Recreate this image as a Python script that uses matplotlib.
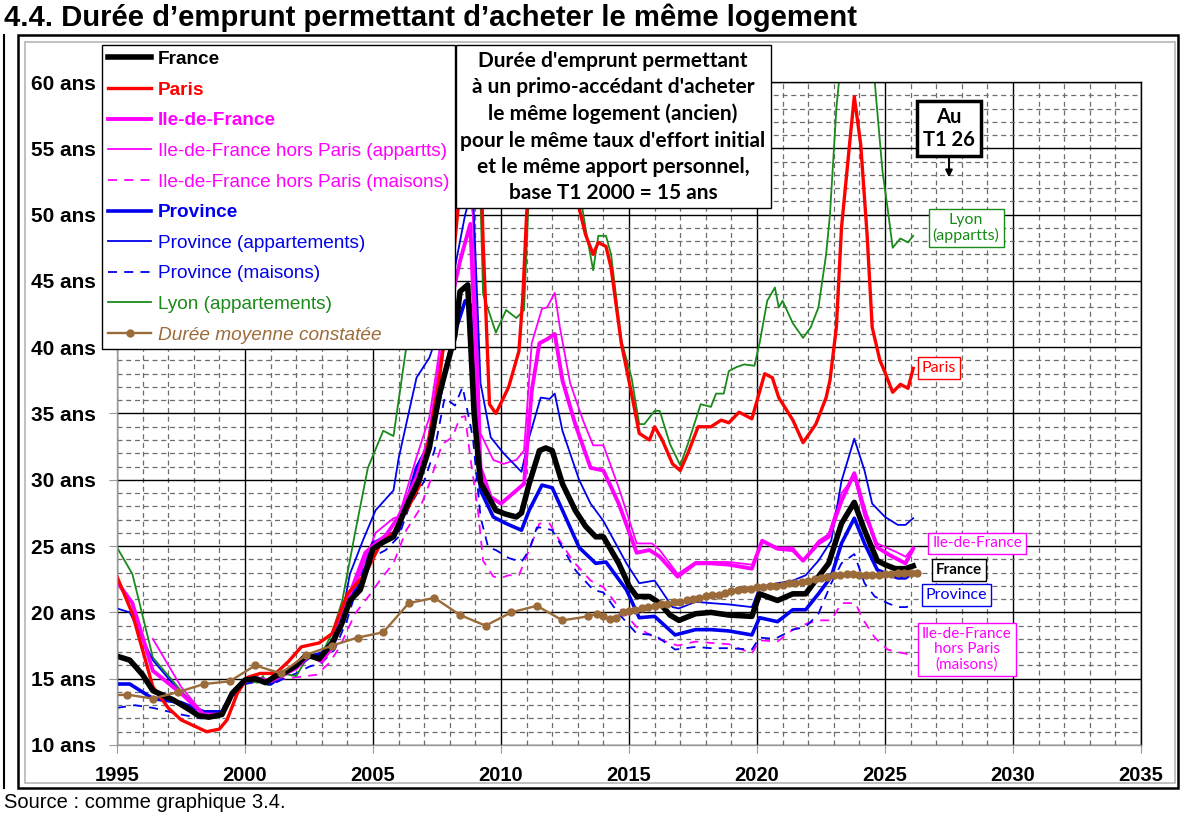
import matplotlib.pyplot as plt
from matplotlib.patches import Rectangle
from matplotlib.lines import Line2D

plt.rcParams['font.family'] = ['Liberation Sans', 'DejaVu Sans']

# ---- data (durée en années) ----
france_t = [1995.0, 1995.5, 1996.0, 1996.4, 1997.2, 1997.8, 1998.2, 1998.6, 1999.1, 1999.5,
            2000.0, 2000.4, 2000.8, 2001.2, 2001.5, 2002.0, 2002.4, 2002.9, 2003.4, 2003.75,
            2004.1, 2004.5, 2005.0, 2005.4, 2005.8, 2006.4, 2006.8, 2007.2, 2007.6, 2008.2,
            2008.4, 2008.7, 2008.95, 2009.2, 2009.8, 2010.2, 2010.6, 2010.8, 2011.1, 2011.5,
            2011.75, 2012.0, 2012.4, 2012.9, 2013.3, 2013.7, 2014.0, 2014.3, 2014.6, 2015.0,
            2015.3, 2015.8, 2016.2, 2016.6, 2016.95, 2017.6, 2018.2, 2018.9, 2019.8, 2020.1,
            2020.8, 2021.4, 2021.9, 2022.4, 2022.8, 2023.3, 2023.8, 2024.2, 2024.7, 2025.0,
            2025.4, 2025.8, 2026.1]
france_v = [16.7, 16.4, 15.3, 14.1, 13.4, 12.7, 12.2, 12.1, 12.3, 13.9,
            14.9, 15.0, 14.7, 15.2, 15.4, 16.0, 16.8, 16.5, 17.7, 19.0,
            20.9, 21.7, 24.8, 25.3, 25.7, 28.4, 30.0, 32.4, 36.5, 40.9,
            44.2, 44.7, 35.0, 29.8, 27.7, 27.4, 27.2, 27.5, 29.7, 32.2,
            32.4, 32.2, 29.7, 27.7, 26.5, 25.7, 25.7, 24.7, 23.7, 22.0,
            21.2, 21.2, 20.7, 19.8, 19.4, 19.9, 20.0, 19.8, 19.7, 21.4,
            20.9, 21.4, 21.4, 22.7, 23.7, 26.7, 28.3, 26.2, 23.9, 23.6,
            23.3, 23.3, 23.5]

paris_t = [1995.0, 1995.6, 1996.4, 1997.0, 1997.5, 1998.5, 1999.0, 1999.3, 1999.7, 2000.1,
           2000.6, 2001.2, 2001.7, 2002.2, 2002.9, 2003.4, 2004.0, 2004.7, 2005.3, 2005.8,
           2006.4, 2006.8, 2007.2, 2007.6, 2008.0, 2008.4, 2008.8, 2009.1, 2009.3, 2009.55,
           2009.8, 2010.3, 2010.7, 2010.85, 2011.0, 2011.3, 2011.8, 2012.3, 2012.8, 2013.05,
           2013.3, 2013.6, 2013.8, 2014.1, 2014.3, 2014.7, 2015.1, 2015.4, 2015.8, 2016.0,
           2016.3, 2016.7, 2017.0, 2017.3, 2017.7, 2018.2, 2018.6, 2018.9, 2019.3, 2019.8,
           2020.3, 2020.6, 2020.85, 2021.4, 2021.8, 2022.3, 2022.7, 2022.85, 2023.1, 2023.3,
           2023.6, 2023.8, 2024.05, 2024.3, 2024.5, 2024.8, 2025.0, 2025.3, 2025.6, 2025.9,
           2026.1]
paris_v = [22.7, 19.9, 14.4, 12.8, 11.9, 11.0, 11.2, 11.9, 13.9, 15.1,
           15.4, 15.4, 16.3, 17.4, 17.7, 18.4, 21.4, 22.9, 25.2, 26.0,
           28.0, 29.5, 33.2, 37.7, 44.0, 52.0, 60.5, 62.0, 48.0, 35.7,
           35.0, 37.0, 39.7, 43.7, 50.0, 58.0, 64.0, 64.0, 56.0, 50.5,
           48.5, 47.0, 47.9, 47.6, 46.0, 40.3, 36.5, 33.5, 33.0, 34.0,
           33.0, 31.2, 30.7, 32.0, 34.0, 34.0, 34.5, 34.3, 35.1, 34.6,
           38.0, 37.7, 36.2, 34.5, 32.8, 34.2, 36.2, 37.5, 41.5, 49.0,
           55.0, 58.9, 55.3, 48.5, 41.5, 39.0, 38.1, 36.6, 37.2, 36.9,
           38.4]

idf_t = [1995.0, 1995.6, 1996.4, 1997.5, 1998.4, 1999.1, 1999.5, 2000.0, 2000.5, 2001.0,
         2001.5, 2002.0, 2002.5, 2003.0, 2003.4, 2004.0, 2004.7, 2005.1, 2005.5, 2006.0,
         2006.7, 2007.2, 2007.6, 2008.0, 2008.4, 2008.8, 2009.0, 2009.2, 2009.6, 2010.0,
         2010.6, 2010.9, 2011.2, 2011.5, 2011.8, 2012.1, 2012.4, 2012.9, 2013.5, 2014.0,
         2014.6, 2015.3, 2015.8, 2016.2, 2016.9, 2017.6, 2018.2, 2018.9, 2019.8, 2020.2,
         2020.8, 2021.4, 2021.8, 2022.4, 2022.8, 2023.3, 2023.8, 2024.2, 2024.7, 2025.2,
         2025.8, 2026.1]
idf_v = [22.3, 20.7, 15.6, 13.9, 12.3, 12.3, 13.8, 14.9, 15.0, 14.8,
         15.3, 15.8, 16.8, 16.3, 17.4, 20.9, 24.5, 25.2, 25.8, 27.2,
         30.2, 33.2, 38.5, 43.0, 46.5, 49.3, 40.0, 30.9, 28.7, 28.2,
         29.2, 29.7, 36.7, 40.3, 40.6, 41.0, 37.5, 34.2, 30.9, 30.7,
         28.2, 24.5, 24.7, 24.2, 22.7, 23.7, 23.7, 23.6, 23.3, 25.4,
         24.8, 24.7, 23.9, 25.2, 25.7, 28.4, 30.5, 27.7, 24.9, 24.3,
         23.7, 24.8]

idf_app_t = [1996.4, 1997.5, 1998.4, 1999.1, 1999.5, 2000.0, 2000.5, 2001.0, 2001.5, 2002.0,
             2002.5, 2003.0, 2003.4, 2004.3, 2005.1, 2005.8, 2006.0, 2006.7, 2007.2, 2007.5,
             2007.9, 2008.3, 2008.6, 2008.9, 2009.2, 2009.7, 2010.1, 2010.6, 2010.9, 2011.2,
             2011.6, 2011.8, 2012.1, 2012.3, 2012.7, 2013.2, 2013.6, 2014.0, 2014.6, 2015.3,
             2015.9, 2016.2, 2016.9, 2017.6, 2018.2, 2018.9, 2019.8, 2020.2, 2020.8, 2021.4,
             2021.8, 2022.4, 2022.8, 2023.3, 2023.8, 2024.2, 2024.7, 2025.5, 2025.8, 2026.1]
idf_app_v = [18.0, 14.4, 12.3, 12.4, 13.9, 14.8, 15.0, 14.9, 15.4, 15.9,
             16.9, 16.5, 17.2, 21.9, 26.0, 27.1, 27.2, 31.7, 34.7, 38.5,
             44.0, 50.5, 54.0, 50.0, 33.5, 31.5, 31.2, 31.5, 32.2, 40.3,
             42.9, 43.0, 44.1, 41.5, 37.3, 34.5, 32.6, 32.6, 29.4, 25.2,
             25.2, 24.7, 22.9, 23.8, 23.8, 23.8, 23.6, 25.4, 24.9, 24.9,
             23.9, 25.4, 25.9, 29.0, 30.2, 27.2, 25.2, 24.5, 24.2, 24.9]

idf_mai_t = [2000.0, 2000.5, 2001.0, 2001.5, 2002.0, 2002.8, 2003.3, 2003.7, 2004.3, 2004.9,
             2005.3, 2005.8, 2006.3, 2006.8, 2007.2, 2007.7, 2008.1, 2008.4, 2008.6, 2008.8,
             2009.1, 2009.3, 2009.7, 2010.0, 2010.3, 2010.7, 2011.1, 2011.5, 2011.9, 2012.2,
             2012.8, 2013.5, 2014.0, 2014.6, 2015.3, 2016.0, 2016.9, 2017.6, 2018.2, 2018.9,
             2019.8, 2020.1, 2020.8, 2021.4, 2022.0, 2022.5, 2022.9, 2023.3, 2023.85, 2024.1,
             2024.6, 2025.1, 2025.5, 2025.8, 2026.1]
idf_mai_v = [14.6, 14.8, 14.6, 15.0, 15.1, 15.3, 16.2, 17.4, 19.9, 21.4,
             22.5, 23.7, 26.2, 27.7, 29.7, 32.7, 33.2, 34.7, 34.8, 31.7,
             27.7, 23.9, 22.7, 22.6, 22.8, 22.8, 24.7, 26.7, 26.7, 25.7,
             23.9, 22.4, 21.9, 20.4, 18.9, 18.1, 17.5, 17.8, 17.7, 17.6,
             16.9, 17.9, 17.8, 18.7, 19.2, 19.4, 19.4, 20.7, 20.7, 19.6,
             18.1, 17.2, 17.0, 16.9, 16.6]

prov_t = [1995.0, 1995.5, 1996.4, 1997.5, 1998.4, 1999.1, 1999.5, 2000.0, 2000.5, 2001.0,
          2001.5, 2002.0, 2002.5, 2003.0, 2003.5, 2004.0, 2004.5, 2005.0, 2006.0, 2006.7,
          2007.2, 2007.7, 2008.1, 2008.6, 2008.8, 2009.0, 2009.2, 2009.7, 2010.2, 2010.8,
          2011.1, 2011.6, 2012.0, 2012.4, 2013.05, 2013.7, 2014.1, 2014.9, 2015.4, 2016.0,
          2016.8, 2017.6, 2018.2, 2018.9, 2019.8, 2020.1, 2020.8, 2021.4, 2021.9, 2022.4,
          2022.9, 2023.3, 2023.8, 2024.2, 2024.7, 2025.5, 2025.8, 2026.1]
prov_v = [14.6, 14.6, 13.5, 13.2, 12.5, 12.5, 13.9, 14.9, 15.0, 14.6,
          15.3, 15.9, 16.6, 16.8, 17.8, 21.0, 22.0, 25.2, 26.2, 30.9,
          32.7, 37.0, 40.5, 43.5, 43.2, 36.0, 29.2, 27.2, 26.7, 26.2,
          27.7, 29.6, 29.4, 27.7, 24.9, 23.7, 23.8, 21.7, 19.6, 19.7,
          18.3, 18.7, 18.7, 18.6, 18.3, 19.6, 19.3, 20.2, 20.2, 21.4,
          22.7, 25.2, 27.1, 25.2, 23.2, 22.6, 22.6, 23.0]

prov_app_t = [1995.0, 1995.5, 1996.4, 1997.5, 1998.4, 1999.1, 1999.5, 2000.0, 2000.5, 2001.0,
              2001.5, 2002.0, 2002.5, 2003.0, 2003.4, 2003.8, 2004.1, 2004.6, 2005.1, 2005.8,
              2006.0, 2006.7, 2007.2, 2007.7, 2008.2, 2008.6, 2008.9, 2009.2, 2009.6, 2010.1,
              2010.8, 2011.1, 2011.55, 2011.9, 2012.1, 2012.4, 2013.05, 2013.5, 2014.0, 2014.9,
              2015.4, 2016.0, 2016.7, 2016.95, 2017.6, 2018.2, 2018.9, 2019.8, 2020.1, 2020.8,
              2021.4, 2021.9, 2022.4, 2022.9, 2023.3, 2023.8, 2024.2, 2024.5, 2025.0, 2025.5,
              2025.8, 2026.1]
prov_app_v = [20.3, 20.0, 16.4, 13.9, 12.3, 12.3, 13.9, 15.0, 15.1, 14.8,
              15.4, 15.8, 16.7, 17.0, 17.9, 19.9, 22.9, 25.4, 27.7, 29.2,
              31.6, 37.7, 39.2, 42.0, 46.0, 50.0, 52.0, 37.3, 33.2, 32.0,
              30.6, 33.2, 36.2, 36.1, 36.5, 33.7, 30.0, 28.2, 26.9, 23.7,
              22.2, 22.4, 20.4, 20.3, 20.8, 20.7, 20.6, 20.4, 21.9, 22.2,
              22.4, 22.8, 23.9, 25.4, 29.9, 33.1, 30.7, 28.2, 27.2, 26.6,
              26.6, 27.1]

prov_mai_t = [1995.0, 1995.7, 1996.4, 1997.5, 1998.3, 1999.1, 1999.5, 2000.0, 2000.5, 2001.0,
              2001.5, 2002.0, 2002.5, 2003.0, 2003.5, 2004.0, 2004.7, 2005.5, 2006.0, 2006.4,
              2007.0, 2007.4, 2007.8, 2008.2, 2008.5, 2008.9, 2009.2, 2009.5, 2009.8, 2010.3,
              2010.8, 2011.1, 2011.4, 2011.6, 2012.0, 2012.4, 2012.9, 2013.6, 2014.0, 2014.6,
              2015.3, 2016.0, 2016.8, 2017.6, 2018.2, 2018.9, 2019.8, 2020.1, 2020.7, 2021.4,
              2021.9, 2022.4, 2022.9, 2023.3, 2023.8, 2024.2, 2024.6, 2025.1, 2025.5, 2025.8,
              2026.1]
prov_mai_v = [12.8, 13.0, 12.8, 12.3, 12.0, 12.2, 13.5, 14.6, 14.8, 14.5,
              15.0, 15.4, 15.9, 16.2, 17.2, 19.5, 23.9, 24.7, 25.7, 27.9,
              29.9, 32.2, 36.2, 35.6, 37.0, 33.2, 27.2, 24.9, 24.7, 24.1,
              23.8, 24.7, 26.4, 26.4, 26.2, 24.9, 23.2, 21.7, 21.5, 19.9,
              18.4, 18.3, 17.2, 17.4, 17.3, 17.3, 17.2, 18.1, 18.0, 18.7,
              18.9, 19.9, 22.2, 23.7, 24.4, 22.2, 21.2, 20.7, 20.4, 20.4,
              20.5]

lyon_t = [1995.0, 1995.6, 1996.4, 1997.5, 1998.4, 1999.1, 1999.5, 2000.0, 2000.5, 2000.7,
          2000.9, 2001.4, 2002.0, 2002.5, 2003.0, 2003.4, 2003.8, 2004.3, 2004.8, 2005.4,
          2005.8, 2006.3, 2006.8, 2007.3, 2008.0, 2008.8, 2009.1, 2009.3, 2009.8, 2010.2,
          2010.6, 2010.9, 2011.1, 2011.5, 2012.0, 2012.5, 2013.05, 2013.3, 2013.6, 2013.8,
          2014.1, 2014.3, 2014.7, 2015.1, 2015.4, 2015.6, 2016.0, 2016.2, 2016.6, 2017.0,
          2017.3, 2017.8, 2018.2, 2018.4, 2018.7, 2018.9, 2019.2, 2019.5, 2019.9, 2020.1,
          2020.4, 2020.7, 2020.85, 2021.0, 2021.4, 2021.8, 2022.1, 2022.4, 2022.7, 2022.85,
          2023.1, 2023.5, 2024.0, 2024.4, 2024.6, 2024.9, 2025.1, 2025.3, 2025.6, 2025.9,
          2026.1]
lyon_v = [24.9, 22.9, 16.6, 14.1, 12.3, 12.3, 13.9, 14.9, 14.7, 15.2,
          14.5, 15.4, 15.2, 16.8, 16.9, 18.4, 20.9, 26.0, 30.9, 33.7,
          33.3, 40.0, 48.0, 58.0, 66.0, 66.0, 58.0, 44.0, 41.1, 42.8,
          42.2, 42.8, 52.0, 58.0, 62.0, 60.0, 52.0, 49.0, 45.8, 48.4,
          48.4, 47.0, 40.5, 37.7, 34.2, 34.2, 35.2, 35.2, 32.7, 31.1,
          32.7, 35.7, 35.5, 36.5, 36.5, 38.2, 38.5, 38.7, 38.6, 40.3,
          43.5, 44.5, 43.0, 43.5, 41.8, 40.7, 41.5, 43.0, 47.0, 50.0,
          58.0, 66.0, 68.0, 64.0, 60.0, 53.3, 50.5, 47.5, 48.2, 47.9,
          48.4]

# durée moyenne constatée : annuelle puis trimestrielle
moy_t = [1994.4, 1995.4, 1996.4, 1997.4, 1998.4, 1999.4, 2000.4, 2001.4, 2002.4, 2003.4,
         2004.4, 2005.4, 2006.4, 2007.4, 2008.4, 2009.4, 2010.4, 2011.4, 2012.4, 2013.4,
         2013.75, 2014.0, 2014.25, 2014.5, 2014.75, 2015.0, 2015.25, 2015.5, 2015.75, 2016.0,
         2016.25, 2016.5, 2016.75, 2017.0, 2017.25, 2017.5, 2017.75, 2018.0, 2018.25, 2018.5,
         2018.75, 2019.0, 2019.25, 2019.5, 2019.75, 2020.0, 2020.25, 2020.5, 2020.75, 2021.0,
         2021.25, 2021.5, 2021.75, 2022.0, 2022.25, 2022.5, 2022.75, 2023.0, 2023.25, 2023.5,
         2023.75, 2024.0, 2024.25, 2024.5, 2024.75, 2025.0, 2025.25, 2025.5, 2025.75, 2026.0,
         2026.25]
moy_v = [13.7, 13.8, 13.5, 14.0, 14.6, 14.8, 16.0, 15.4, 16.8, 17.5,
         18.1, 18.5, 20.7, 21.1, 19.8, 19.0, 20.0, 20.5, 19.4, 19.7,
         19.9, 19.7, 19.5, 19.6, 20.0, 20.1, 20.2, 20.3, 20.4, 20.5,
         20.6, 20.6, 20.8, 20.8, 20.9, 21.0, 21.1, 21.2, 21.3, 21.3,
         21.5, 21.6, 21.7, 21.8, 21.8, 21.9, 21.9, 22.0, 22.0, 22.1,
         22.2, 22.2, 22.3, 22.4, 22.5, 22.6, 22.7, 22.8, 22.8, 22.9,
         22.9, 22.8, 22.8, 22.8, 22.8, 22.9, 22.9, 23.0, 23.0, 23.0,
         23.0]

year_ticks = list(range(1995, 2036, 5))
dur_ticks = list(range(10, 61, 5))
dur_labels = [f"{d} ans" for d in dur_ticks]

RED = '#ff0000'
MAG = '#ff00ff'
BLUE = '#0000ee'
GREEN = '#1a8a1a'
BROWN = '#9c6b3a'
DASH = (0, (5, 4))

W, H = 1201, 817
fig = plt.figure(figsize=(W / 100, H / 100), dpi=100)
ax = fig.add_axes([117 / W, 1 - 745 / H, 1024 / W, 663 / H])

ax.plot(idf_mai_t, idf_mai_v, color=MAG, lw=1.3, ls=DASH, label='Ile-de-France hors Paris (maisons)')
ax.plot(prov_mai_t, prov_mai_v, color=BLUE, lw=1.3, ls=DASH, label='Province (maisons)')
ax.plot(lyon_t, lyon_v, color=GREEN, lw=1.3, label='Lyon (appartements)')
ax.plot(idf_app_t, idf_app_v, color=MAG, lw=1.3, label='Ile-de-France hors Paris (appartts)')
ax.plot(prov_app_t, prov_app_v, color=BLUE, lw=1.3, label='Province (appartements)')
ax.plot(prov_t, prov_v, color=BLUE, lw=2.6, label='Province')
ax.plot(idf_t, idf_v, color=MAG, lw=2.8, label='Ile-de-France')
ax.plot(paris_t, paris_v, color=RED, lw=2.4, label='Paris')
ax.plot(france_t, france_v, color='black', lw=4.0, label='France')
ax.plot(moy_t, moy_v, color=BROWN, lw=1.7, marker='o', ms=5, label='Durée moyenne constatée')

ax.set_xlim(1995, 2035)
ax.set_ylim(10, 60)
ax.set_xticks(year_ticks)
ax.set_xticks(range(1995, 2036), minor=True)
ax.set_yticks(dur_ticks)
ax.set_yticks(range(10, 61), minor=True)
ax.set_yticklabels(dur_labels, fontsize=15, fontweight='bold')
ax.set_xticklabels([str(y) for y in year_ticks], fontsize=14.5, fontweight='bold')
ax.set_axisbelow(True)
ax.grid(which='minor', color='#6e6e6e', lw=0.9, ls=(0, (4, 3)))
ax.grid(which='major', color='black', lw=1.0, ls='-')
ax.tick_params(which='major', length=6, color='#999999', pad=9)
ax.tick_params(axis='x', pad=9)
ax.tick_params(which='minor', length=0)
for s in ax.spines.values():
    s.set_color('#999999')
    s.set_linewidth(1)
ax.spines['top'].set_color('black')
ax.spines['right'].set_color('black')

# legende
order = ['France', 'Paris', 'Ile-de-France', 'Ile-de-France hors Paris (appartts)',
         'Ile-de-France hors Paris (maisons)', 'Province', 'Province (appartements)',
         'Province (maisons)', 'Lyon (appartements)', 'Durée moyenne constatée']
h, l = ax.get_legend_handles_labels()
hmap = dict(zip(l, h))
leg = fig.legend([hmap[k] for k in order], order, loc='upper left',
                 bbox_to_anchor=(102 / W, 1 - 45 / H), fontsize=13.7, frameon=True,
                 fancybox=False, edgecolor='black', framealpha=1, borderpad=0.3,
                 labelspacing=0.7, handlelength=2.3, handletextpad=0.35, borderaxespad=0)
leg.get_frame().set_linewidth(1)
bold = {'France', 'Paris', 'Ile-de-France', 'Province'}
for txt, k in zip(leg.get_texts(), order):
    txt.set_color(hmap[k].get_color())
    if k in bold:
        txt.set_fontweight('bold')
    if k.startswith('Durée'):
        txt.set_fontstyle('italic')

# encadre explicatif
fig.add_artist(Rectangle((456 / W, 1 - 208 / H), 315 / W, 163 / H, transform=fig.transFigure,
                         fc='white', ec='black', lw=1, zorder=10))
fig.text(613 / W, 1 - 127 / H,
         "Durée d'emprunt permettant\nà un primo-accédant d'acheter\nle même logement (ancien)\n"
         "pour le même taux d'effort initial\net le même apport personnel,\nbase T1 2000 = 15 ans",
         ha='center', va='center', fontsize=15, fontweight='bold', family='Lato',
         linespacing=1.4, zorder=11)

# etiquettes en fin de courbe
def tag(x, y, s, c, bold=False, size=11.5):
    ax.text(x, y, s, color=c, ha='center', va='center', fontsize=size, family='Lato',
            fontweight='bold' if bold else 'normal', linespacing=1.1, zorder=20,
            bbox=dict(boxstyle='square,pad=0.25', fc='white', ec=c, lw=1))

tag(2028.17, 49.0, 'Lyon\n(appartts)', GREEN)
tag(2027.1, 38.4, 'Paris', RED)
tag(2028.6, 25.2, 'Ile-de-France', MAG, size=11)
tag(2027.9, 23.2, 'France', 'black', bold=True, size=11)
tag(2027.8, 21.3, 'Province', BLUE)
tag(2028.2, 17.2, 'Ile-de-France\nhors Paris\n(maisons)', MAG, size=11)
ax.text(2027.5, 56.5, 'Au\nT1 26', ha='center', va='center', fontsize=14.5, family='Lato',
        fontweight='bold', linespacing=1.15, zorder=20,
        bbox=dict(boxstyle='square,pad=0.3', fc='white', ec='black', lw=2.5))
ax.annotate('', xy=(2027.5, 52.6), xytext=(2027.5, 54.5),
            arrowprops=dict(arrowstyle='-|>', color='black', lw=1.5, mutation_scale=10))

# titre, source, cadres
fig.text(4 / W, 1 - 18 / H, "4.4. Durée d’emprunt permettant d’acheter le même logement",
         fontsize=21.1, fontweight='bold', va='center')
fig.text(4 / W, 1 - 802 / H, "Source : comme graphique 3.4.", fontsize=14.5, va='center')
fig.add_artist(Rectangle((18 / W, 1 - 788 / H), 1160 / W, 753 / H, transform=fig.transFigure,
                         fill=False, ec='black', lw=1.8))
fig.add_artist(Rectangle((25 / W, 1 - 783 / H), 1150 / W, 741 / H, transform=fig.transFigure,
                         fill=False, ec='#b5b5b5', lw=1.2))
fig.add_artist(Line2D([4 / W, 4 / W], [1 - 35 / H, 1 - 788 / H], transform=fig.transFigure,
                      color='black', lw=1.5))

fig.savefig('out.png', dpi=100)
